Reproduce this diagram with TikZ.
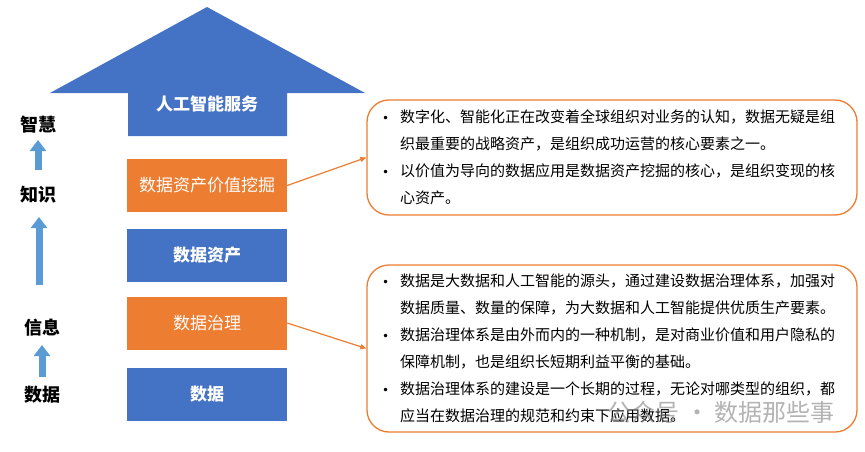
\documentclass[tikz,border=0pt]{standalone}
\usepackage{fontspec}
\setmainfont{Noto Sans CJK SC}
\newfontfamily\dotfont{DejaVu Sans}
\usetikzlibrary{arrows.meta,calc,positioning}

\definecolor{boxblue}{HTML}{4472C4}
\definecolor{boxorange}{HTML}{ED7D31}
\definecolor{arrowblue}{HTML}{5B9BD5}

\newcommand{\bul}{\makebox[18pt][l]{{\dotfont\fontsize{12}{12}\selectfont •}}}
\newcommand{\ind}{\hspace*{18pt}}

\tikzset{
  layer/.style={minimum width=160pt,minimum height=53pt,inner sep=0pt,text=white},
  bluelayer/.style={layer,fill=boxblue,font=\bfseries\fontsize{17}{20}\selectfont},
  orangelayer/.style={layer,fill=boxorange,font=\fontsize{17}{20}\selectfont},
  level/.style={font=\bfseries\fontsize{18}{20}\selectfont,inner sep=0pt},
  uparrow/.style={arrowblue,line width=7pt,-{Triangle[width=16pt,length=11pt]}},
  notebox/.style={draw=boxorange,line width=1.3pt,rounded corners=22pt,inner xsep=15pt,
    text width=460pt,align=left,font=\fontsize{15}{27}\selectfont},
  link/.style={boxorange,line width=1.2pt,-{Triangle[length=6pt,width=5pt]}},
}

\begin{document}
\begin{tikzpicture}[x=1pt,y=-1pt]
\useasboundingbox (0,0) rectangle (865,452);

% big arrow on top
\fill[boxblue] (50,93) -- (207,7) -- (365,93) -- (287,93) -- (287,136) -- (128,136) -- (128,93) -- cycle;
\node[text=white,font=\bfseries\fontsize{17}{20}\selectfont] (ai) at (207,104) {人工智能服务};

% layers
\node[orangelayer] (mining) at (207,185.5) {数据资产价值挖掘};
\node[bluelayer] (asset) at (207,255.5) {数据资产};
\node[orangelayer] (govern) at (207,323) {数据治理};
\node[bluelayer] (data) at (207,394) {数据};

% levels on the left
\node[level] (wisdom) at (38,125) {智慧};
\node[level] (knowledge) at (38,195) {知识};
\node[level] (info) at (42,328) {信息};
\node[level] (raw) at (42,395) {数据};

\draw[uparrow,shorten <=25pt,shorten >=15pt] (knowledge.center) -- (wisdom.center);
\draw[uparrow,shorten <=43pt,shorten >=22pt] ($(knowledge |- info)+(1,0)$) -- ($(knowledge.center)+(1,0)$);
\draw[uparrow,shorten <=18pt,shorten >=17pt] (raw.center) -- (info.center);

% notes
\node[notebox,minimum height=115pt] (note1) at (612,157.5) {%
\bul 数字化、智能化正在改变着全球组织对业务的认知，数据无疑是组\\
\ind 织最重要的战略资产，是组织成功运营的核心要素之一。\\
\bul 以价值为导向的数据应用是数据资产挖掘的核心，是组织变现的核\\
\ind 心资产。};
\node[notebox,minimum height=167pt] (note2) at (612,348.5) {%
\bul 数据是大数据和人工智能的源头，通过建设数据治理体系，加强对\\
\ind 数据质量、数量的保障，为大数据和人工智能提供优质生产要素。\\
\bul 数据治理体系是由外而内的一种机制，是对商业价值和用户隐私的\\
\ind 保障机制，也是组织长短期利益平衡的基础。\\
\bul 数据治理体系的建设是一个长期的过程，无论对哪类型的组织，都\\
\ind 应当在数据治理的规范和约束下应用数据。};

\draw[link] (mining.east) -- (note1.west);
\draw[link] (govern.east) -- (note2.west);

% watermark
\node[anchor=east,text=gray,opacity=0.6,font=\fontsize{24}{24}\selectfont] (mark) at (838,412) {公众号 · 数据那些事};
\end{tikzpicture}
\end{document}
